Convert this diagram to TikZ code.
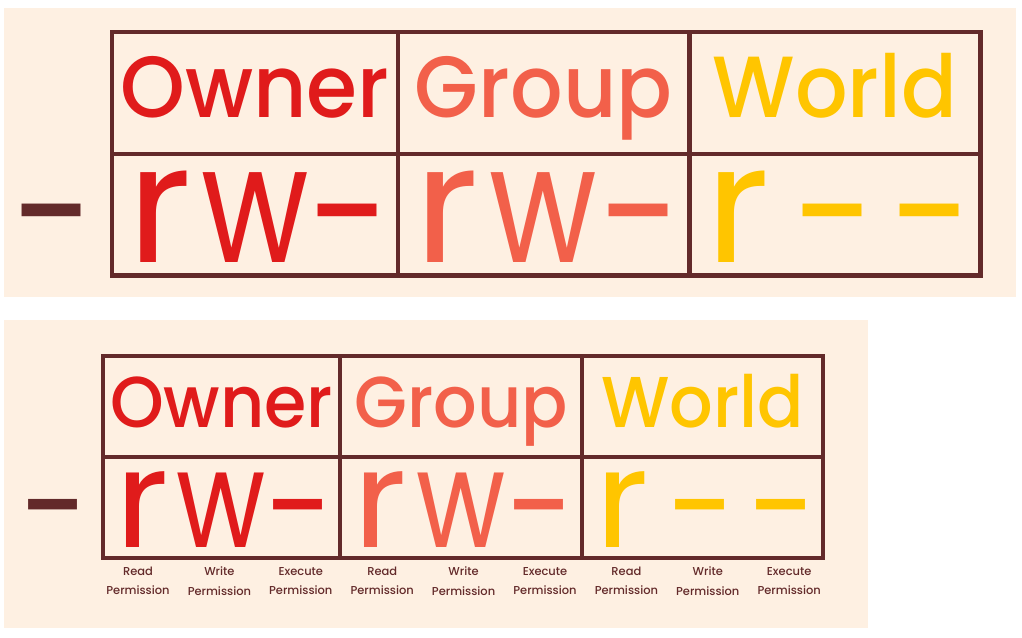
\documentclass[tikz,border=0pt]{standalone}
\usepackage{fontspec}
\setmainfont{Poppins}
\newfontfamily\headfont{Poppins Medium}[FakeStretch=0.95]
\newfontfamily\notefont{Poppins Medium}
\definecolor{cream}{HTML}{FEF0E2}
\definecolor{frame}{HTML}{632A2A}
\definecolor{ownerred}{HTML}{E01B1B}
\definecolor{groupcoral}{HTML}{F2604A}
\definecolor{worldgold}{HTML}{FFC500}
\tikzset{
  grid line/.style={draw=frame, line width=3.4pt},
  head/.style={inner sep=0pt, anchor=base, font=\headfont\fontsize{54}{60}\selectfont},
  perm/.style={inner sep=0pt, anchor=base, text depth=0pt, font=\fontsize{102}{110}\selectfont},
  note/.style={inner sep=0pt, align=center, text=frame, font=\notefont\fontsize{8.6}{14.6}\selectfont},
}

\begin{document}
\begin{tikzpicture}[x=0.75pt,y=-0.75pt]
\useasboundingbox (0,0) rectangle (1022,638);
\fill[cream] (4,8) rectangle (1016,297);
\fill[cream] (4,320) rectangle (868,628);
% same table twice, the upper one larger
\foreach \p/\sx/\sy/\sc in {top/112/32/1.206, low/103/356/1} {
  \begin{scope}[shift={(\sx,\sy)}, scale=\sc, transform shape]
    \node[perm, text=frame, xscale=0.9] (\p-type) at (-48,198) {-};
    \foreach \lab/\col/\a/\b/\chars [count=\i] in
      {Owner/ownerred/0/237/{r/0/1.05,w/0/0.8,-/7/0.9}, Group/groupcoral/237/479/{r/0/1.05,w/0/0.8,-/7/0.9},
       World/worldgold/479/720/{r/0/1.05,-/7/0.9,-/7/0.9}} {
      \node[head, text=\col] (\p-\i) at ({(\a+\b)/2},71) {\lab};
      \foreach \ch/\dy/\wx [count=\j] in \chars
        \node[perm, text=\col, xscale=\wx] (\p-\i-\j) at ({\a+(\b-\a)*(2*\j-1)/6},191+\dy) {\ch};
    }
    \draw[grid line] (0,0) rectangle (720,202);
    \draw[grid line] (0,101) -- (720,101);
    \draw[grid line] (237,0) -- (237,202) (479,0) -- (479,202);
  \end{scope}
}
% what each letter stands for
\begin{scope}[shift={(103,356)}]
  \foreach \w [count=\k from 0] in {Read, Write, Execute, Read, Write, Execute, Read, Write, Execute}
    \node[note] (note-\k) at ({35+81.4*\k},225) {\w\\Permission};
\end{scope}
\end{tikzpicture}
\end{document}
